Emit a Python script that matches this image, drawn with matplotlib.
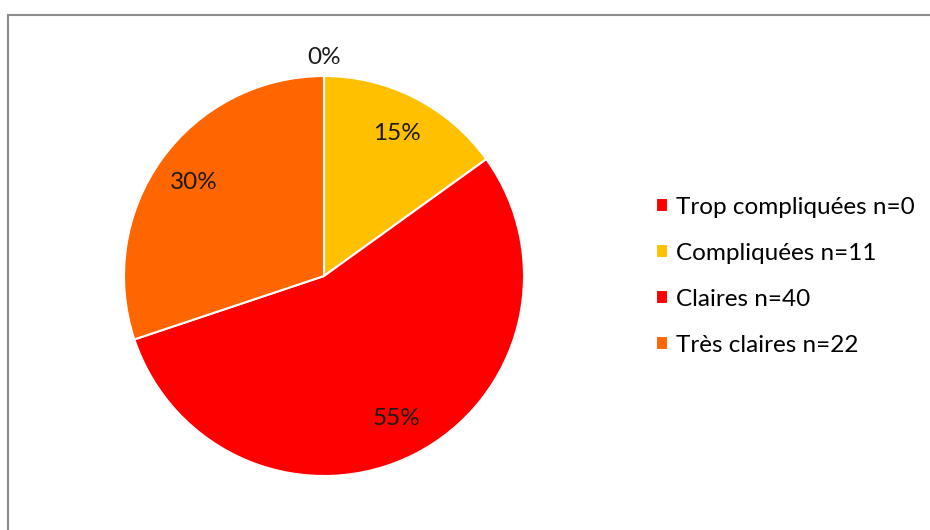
import matplotlib.pyplot as plt
from matplotlib.patches import Rectangle

# --- Data ---
labels = ['Trop compliquées n=0', 'Compliquées n=11', 'Claires n=40', 'Très claires n=22']
counts = [0, 11, 40, 22]
colors = ['#FF0000', '#FFC000', '#FF0000', '#FF6600']

plt.rcParams['font.family'] = ['Lato', 'DejaVu Sans']

fig = plt.figure(figsize=(9.3, 5.3), dpi=100)

# outer frame (top + left only visible in the crop)
fig.patches.append(Rectangle((8 / 930, -0.05), 1.0, 1 - 15 / 530 + 0.05,
                             transform=fig.transFigure, fill=False,
                             edgecolor='#8c8c8c', linewidth=1.5))

ax = fig.add_axes([124 / 930, 54 / 530, 400 / 930, 400 / 530])

wedges, texts, pcts = ax.pie(counts, colors=colors, startangle=90, counterclock=False,
                             autopct='%1.0f%%', pctdistance=0.8, radius=1,
                             wedgeprops=dict(edgecolor='white', linewidth=1.5),
                             textprops=dict(fontsize=17.5, color='#1a1a1a'))
# the 0% label sits just above the pie
pcts[0].set_position((0, 1.095))

ax.set_xlim(-1, 1)
ax.set_ylim(-1, 1)
ax.set_aspect('equal')
ax.axis('off')

fig.legend(wedges, labels, loc='upper left', bbox_to_anchor=(646 / 930, 1 - 187 / 530),
           frameon=False, fontsize=17.5, handlelength=0.5, handleheight=0.5,
           handletextpad=0.35, labelspacing=1.03, borderaxespad=0)

fig.savefig('out.png', dpi=100)
